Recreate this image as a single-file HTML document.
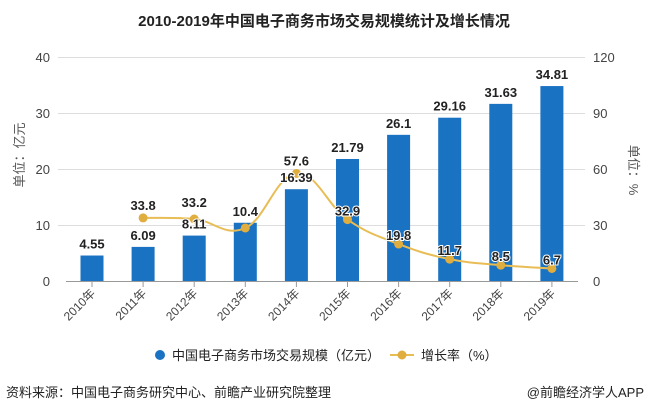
<!DOCTYPE html>
<html><head><meta charset="utf-8"><style>
body{margin:0;background:#fff;width:649px;height:413px;overflow:hidden;font-family:"Liberation Sans","Noto Sans CJK SC",sans-serif}
</style></head><body>
<svg width="649" height="413" xmlns="http://www.w3.org/2000/svg" font-family="Liberation Sans, Noto Sans CJK SC, sans-serif">
<text x="324" y="26" text-anchor="middle" font-size="15" font-weight="bold" fill="#222">2010-2019年中国电子商务市场交易规模统计及增长情况</text>
<g stroke="#ddd" stroke-width="1">
<line x1="58" x2="585" y1="57.5" y2="57.5"/><line x1="58" x2="585" y1="113.5" y2="113.5"/>
<line x1="58" x2="585" y1="169.5" y2="169.5"/><line x1="58" x2="585" y1="225.5" y2="225.5"/>
</g>
<line x1="66" x2="578" y1="281.5" y2="281.5" stroke="#999"/>
<g font-size="13" fill="#444" text-anchor="end">
<text x="50" y="62">40</text><text x="50" y="118">30</text><text x="50" y="174">20</text><text x="50" y="230">10</text><text x="50" y="286">0</text>
</g>
<g font-size="13" fill="#444" text-anchor="start">
<text x="593" y="62">120</text><text x="593" y="118">90</text><text x="593" y="174">60</text><text x="593" y="230">30</text><text x="593" y="286">0</text>
</g>
<text transform="translate(24,155) rotate(-90)" font-size="13" fill="#555" text-anchor="middle">单位：亿元</text>
<text transform="translate(629,170) rotate(90)" font-size="13" fill="#555" text-anchor="middle">单位：%</text>
<g fill="#1a72c2" id="bars"></g>
<g id="ticks" stroke="#999"></g>
<path id="line" fill="none" stroke="#e8bd55" stroke-width="2"/>
<g id="dots" fill="#e0ad3f"></g>
<g id="labels" font-size="13" font-weight="bold" fill="#222" text-anchor="middle" stroke="#fff" stroke-width="2" paint-order="stroke"></g>
<g id="xl" font-size="12" fill="#444" text-anchor="end"></g>
<circle cx="160" cy="355" r="5" fill="#1a72c2"/>
<text x="172" y="360" font-size="13" fill="#222">中国电子商务市场交易规模（亿元）</text>
<line x1="390" x2="414" y1="355" y2="355" stroke="#e8bd55" stroke-width="2"/>
<circle cx="402" cy="355" r="4.5" fill="#e0ad3f"/>
<text x="421" y="360" font-size="13" fill="#222">增长率（%）</text>
<text x="6" y="397" font-size="13" fill="#222">资料来源：中国电子商务研究中心、前瞻产业研究院整理</text>
<text x="644" y="397" font-size="13" fill="#222" text-anchor="end">@前瞻经济学人APP</text>
</svg>
<script>
const ns="http://www.w3.org/2000/svg";
const v=[4.55,6.09,8.11,10.4,16.39,21.79,26.1,29.16,31.63,34.81];
const g=[null,33.8,33.2,28.4,57.6,32.9,19.8,11.7,8.5,6.7];
const gl=[null,"33.8","33.2",null,"57.6","32.9","19.8","11.7","8.5","6.7"];
function el(p,t,a,txt){const e=document.createElementNS(ns,t);for(const k in a)e.setAttribute(k,a[k]);if(txt!=null)e.textContent=txt;document.getElementById(p).appendChild(e);}
let P=[];
v.forEach((x,i)=>{const cx=92+i*51.1,y=281-x*5.6;
el("bars","rect",{x:cx-11.5,y:y,width:23,height:281-y});
el("ticks","line",{x1:cx,x2:cx,y1:282,y2:287});
el("xl","text",{transform:`translate(${cx+4},${294}) rotate(-45)`},(2010+i)+"年");
if(g[i]!=null){const gy=281-g[i]/120*224;P.push([cx,gy]);el("dots","circle",{cx:cx,cy:gy,r:4.5});}
});
let d="M"+P[0][0]+","+P[0][1];
for(let i=0;i<P.length-1;i++){const p0=P[Math.max(0,i-1)],p1=P[i],p2=P[i+1],p3=P[Math.min(P.length-1,i+2)];const t=0.2;
d+=` C${p1[0]+(p2[0]-p0[0])*t},${p1[1]+(p2[1]-p0[1])*t} ${p2[0]-(p3[0]-p1[0])*t},${p2[1]-(p3[1]-p1[1])*t} ${p2[0]},${p2[1]}`;}
document.getElementById("line").setAttribute("d",d);
v.forEach((x,i)=>{const cx=92+i*51.1,y=281-x*5.6;el("labels","text",{x:cx,y:y-7},String(x));
if(gl[i]!=null){const gy=281-g[i]/120*224;let ly=gy-8;if(i==2)ly=gy-12;el("labels","text",{x:cx,y:i>=5?gy-4:ly},gl[i]);}});
</script>
</body></html>
